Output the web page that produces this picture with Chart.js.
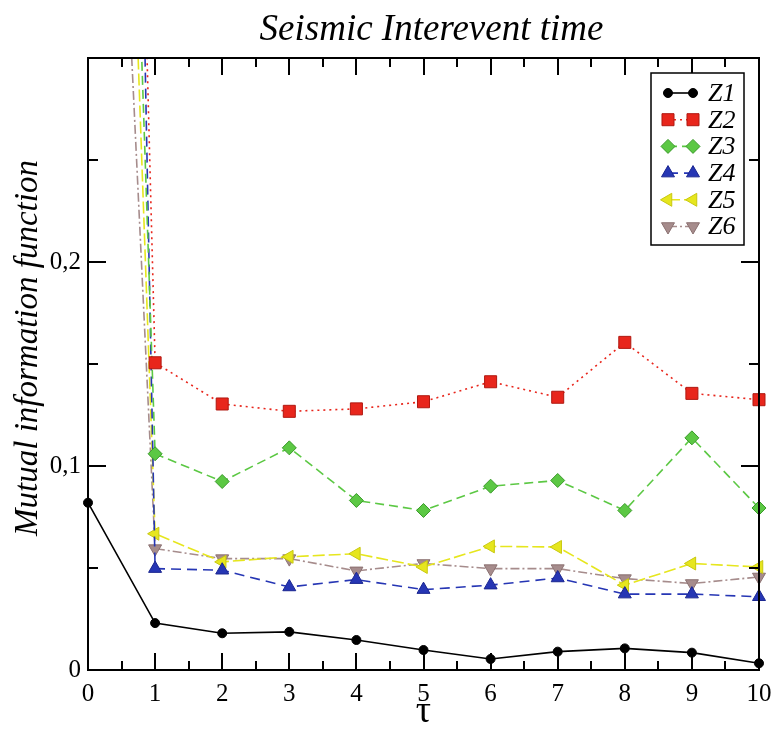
<!DOCTYPE html>
<html><head><meta charset="utf-8">
<script src="https://cdn.jsdelivr.net/npm/chart.js@4.4.0/dist/chart.umd.min.js"></script>
<style>html,body{margin:0;padding:0;background:#fff;}#wrap{width:773px;height:732px;}</style>
</head><body><div id="wrap"><canvas id="c" width="773" height="732"></canvas></div>
<script>
// ---- data ----
const tau = [0, 1, 2, 3, 4, 5, 6, 7, 8, 9, 10];
const z1 = [0.082, 0.023, 0.018, 0.0187, 0.0147, 0.0098, 0.0054, 0.009, 0.0106, 0.0085, 0.0033];
const z2 = [1.40, 0.1506, 0.1304, 0.1268, 0.128, 0.1315, 0.1413, 0.1337, 0.1606, 0.1356, 0.1325];
const z3 = [1.08, 0.106, 0.0924, 0.1089, 0.0831, 0.0782, 0.0901, 0.0929, 0.0782, 0.1138, 0.0794];
const z4 = [1.72, 0.0497, 0.0489, 0.0407, 0.0443, 0.0394, 0.0416, 0.0451, 0.0372, 0.0372, 0.0359];
const z5 = [0.99, 0.0668, 0.053, 0.0555, 0.057, 0.0505, 0.0606, 0.0603, 0.0416, 0.0522, 0.0505];
const z6 = [0.75, 0.0595, 0.0546, 0.0546, 0.0486, 0.0522, 0.0497, 0.0497, 0.0448, 0.0424, 0.0456];
const seriesNames = ['Z1', 'Z2', 'Z3', 'Z4', 'Z5', 'Z6'];
const xTickLabels = ['0', '1', '2', '3', '4', '5', '6', '7', '8', '9', '10'];
const yTickLabels = ['0', '0,1', '0,2'];
const chartTitle = 'Seismic Interevent time';
const xTitle = '\u03C4';
const yTitle = 'Mutual information function';

const SERIF = '"Liberation Serif", "DejaVu Serif", serif';
const allValues = [z1, z2, z3, z4, z5, z6];
const styles = [
  {color: '#000000', border: '#000000', dash: [], style: 'circle', r: 4.5, rot: 0},
  {color: '#e8261c', border: '#b01810', dash: [2, 4], style: 'rect', r: 8.5, rot: 0},
  {color: '#5cc844', border: '#3a9a2a', dash: [9, 5], style: 'rectRot', r: 7, rot: 0},
  {color: '#2636b4', border: '#1a2690', dash: [10, 6], style: 'triangle', r: 7.5, rot: 0},
  {color: '#e6e61e', border: '#c8c810', dash: [12, 4], style: 'triangle', r: 7.5, rot: -90},
  {color: '#a68c8c', border: '#8a7070', dash: [9, 3, 2, 3], style: 'triangle', r: 7.5, rot: 180}
];

const datasets = allValues.map((vals, i) => ({
  label: seriesNames[i],
  data: tau.map((t, k) => ({x: t, y: vals[k]})),
  borderColor: styles[i].color,
  backgroundColor: styles[i].color,
  borderWidth: 1.6,
  borderDash: styles[i].dash,
  pointStyle: styles[i].style,
  pointRadius: styles[i].r,
  pointRotation: styles[i].rot,
  pointBackgroundColor: styles[i].color,
  pointBorderColor: styles[i].border,
  pointBorderWidth: 1,
  tension: 0,
  clip: {left: 12, right: 12, top: 0, bottom: 12}
}));

const decorPlugin = {
  id: 'decor',
  afterDraw(chart) {
    const ctx = chart.ctx, a = chart.chartArea;
    const xs = chart.scales.x, ys = chart.scales.y;
    ctx.save();
    // frame
    ctx.strokeStyle = '#000'; ctx.lineWidth = 2; ctx.setLineDash([]);
    ctx.strokeRect(a.left, a.top, a.right - a.left, a.bottom - a.top);
    // ticks (inward, both sides)
    ctx.lineWidth = 2;
    ctx.beginPath();
    for (let v = 0; v <= 10.001; v += 0.5) {
      const major = Math.abs(v - Math.round(v)) < 1e-6;
      const L = major ? 17 : 9;
      const px = Math.round(xs.getPixelForValue(v)) ;
      ctx.moveTo(px, a.bottom); ctx.lineTo(px, a.bottom - L);
      ctx.moveTo(px, a.top); ctx.lineTo(px, a.top + L);
    }
    for (let k = 0; k <= 6; k++) {
      const v = k * 0.05;
      const major = k % 2 === 0;
      const L = major ? 18 : 10;
      const py = Math.round(ys.getPixelForValue(v));
      ctx.moveTo(a.left, py); ctx.lineTo(a.left + L, py);
      ctx.moveTo(a.right, py); ctx.lineTo(a.right - L, py);
    }
    ctx.stroke();
    // titles
    ctx.fillStyle = '#000';
    ctx.textAlign = 'center'; ctx.textBaseline = 'alphabetic';
    ctx.font = 'italic 37px ' + SERIF;
    ctx.fillText(chartTitle, (a.left + a.right) / 2 + 8, 40);
    ctx.font = '38px ' + SERIF;
    ctx.fillText(xTitle, (a.left + a.right) / 2, 722);
    ctx.save();
    ctx.translate(37, 348);
    ctx.rotate(-Math.PI / 2);
    ctx.font = 'italic 33px ' + SERIF;
    ctx.fillText(yTitle, 0, 0);
    ctx.restore();
    // legend
    const bx = 651, by = 73, bw = 93, bh = 172;
    ctx.fillStyle = '#fff';
    ctx.fillRect(bx, by, bw, bh);
    ctx.strokeStyle = '#000'; ctx.lineWidth = 1.5;
    ctx.strokeRect(bx, by, bw, bh);
    chart.data.datasets.forEach((ds, i) => {
      const y = 93 + i * 26.7;
      const x1 = 668, x2 = 693;
      ctx.save();
      ctx.strokeStyle = ds.borderColor; ctx.lineWidth = 1.6;
      ctx.setLineDash(ds.borderDash || []);
      ctx.beginPath(); ctx.moveTo(x1, y); ctx.lineTo(x2, y); ctx.stroke();
      ctx.setLineDash([]);
      ctx.fillStyle = ds.pointBackgroundColor; ctx.strokeStyle = ds.pointBorderColor; ctx.lineWidth = 1;
      const opt = {pointStyle: ds.pointStyle, rotation: ds.pointRotation, radius: ds.pointRadius, borderWidth: 1};
      Chart.helpers.drawPoint(ctx, opt, x1, y);
      Chart.helpers.drawPoint(ctx, opt, x2, y);
      ctx.restore();
      ctx.fillStyle = '#000';
      ctx.font = 'italic 26px ' + SERIF;
      ctx.textAlign = 'left'; ctx.textBaseline = 'middle';
      ctx.fillText(ds.label, 708, y + 1);
    });
    ctx.restore();
  }
};

new Chart(document.getElementById('c'), {
  type: 'line',
  data: {datasets},
  options: {
    responsive: false,
    animation: false,
    devicePixelRatio: 1,
    layout: {padding: {left: 0, top: 58, right: 14, bottom: 0}},
    plugins: {legend: {display: false}, title: {display: false}, tooltip: {enabled: false}},
    scales: {
      x: {
        type: 'linear', min: 0, max: 10,
        afterFit(s) { s.height = 62; s.paddingLeft = 0; s.paddingRight = 0; },
        border: {display: false},
        grid: {display: false, drawTicks: false},
        ticks: {
          stepSize: 1, padding: 9, color: '#000', maxRotation: 0, autoSkip: false,
          font: {family: SERIF, size: 25},
          callback: (v) => { const i = Math.round(v); return Math.abs(v - i) < 1e-6 ? xTickLabels[i] : ''; }
        }
      },
      y: {
        type: 'linear', min: 0, max: 0.3,
        afterFit(s) { s.width = 88; s.paddingTop = 0; s.paddingBottom = 0; },
        border: {display: false},
        grid: {display: false, drawTicks: false},
        ticks: {
          stepSize: 0.1, padding: 7, color: '#000',
          font: {family: SERIF, size: 25},
          callback: (v) => { const i = Math.round(v * 10); return i < yTickLabels.length ? yTickLabels[i] : ''; }
        }
      }
    }
  },
  plugins: [decorPlugin]
});
</script></body></html>
